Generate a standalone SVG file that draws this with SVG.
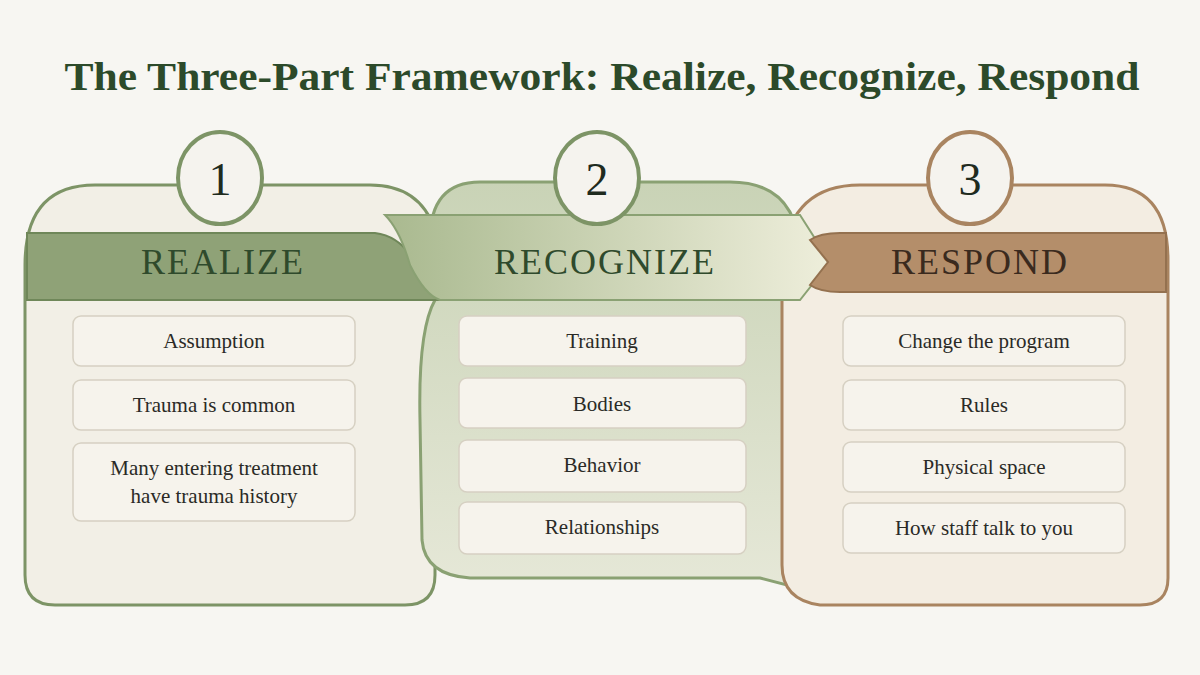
<svg xmlns="http://www.w3.org/2000/svg" width="1200" height="675" viewBox="0 0 1200 675">
<defs>
<style>
.t{font-family:"Liberation Serif",serif;text-anchor:middle}
.box{fill:#f6f3ec;stroke:#d6d0c2;stroke-width:1.5}
.bt{font-family:"Liberation Serif",serif;font-size:21px;fill:#2a2a26;text-anchor:middle}
.hd{font-family:"Liberation Serif",serif;font-size:36px;letter-spacing:2px;text-anchor:middle}
.num{font-family:"Liberation Serif",serif;font-size:46px;fill:#1f2b1e;text-anchor:middle}
</style>
<linearGradient id="rib" x1="0" x2="1"><stop offset="0" stop-color="#a9b98f"/><stop offset="1" stop-color="#eeeedb"/></linearGradient>
<linearGradient id="p2" x1="0" y1="0" x2="0" y2="1"><stop offset="0" stop-color="#c9d3b6"/><stop offset="1" stop-color="#e6e8d8"/></linearGradient>
</defs>
<rect width="1200" height="675" fill="#f7f6f2"/>
<text class="t" x="602" y="90" font-size="40" font-weight="bold" fill="#2c4a2a" textLength="1075" lengthAdjust="spacingAndGlyphs">The Three-Part Framework: Realize, Recognize, Respond</text>
<g id="panel1">
<path d="M25,575 L25,265 Q25,185 95,185 L370,185 Q420,185 435,230 L435,575 Q435,605 405,605 L55,605 Q25,605 25,575 Z" fill="#f2efe6" stroke="#7d9466" stroke-width="3"/>
</g>
<g id="panel2">
<path d="M435,300 Q418,330 420,420 L422,540 Q425,575 470,578 L760,578 Q790,585 820,595 L800,300 L800,260 Q800,182 730,182 L480,182 Q430,182 430,240 Z" fill="url(#p2)" stroke="#8aa173" stroke-width="3"/>
</g>
<g id="panel3">
<path d="M782,565 L782,260 Q790,185 860,185 L1105,185 Q1168,185 1168,260 L1168,578 Q1168,605 1140,605 L820,605 Q782,600 782,565 Z" fill="#f3ede2" stroke="#a98460" stroke-width="3"/>
</g>
<g id="bands">
<path d="M27,233 L375,233 Q400,236 415,262 L440,300 L27,300 Z" fill="#8fa277" stroke="#6f8759" stroke-width="2"/>
<path d="M385,215 L800,215 L830,262 L800,300 L440,300 Q425,295 410,265 Q400,230 385,215 Z" fill="url(#rib)" stroke="#8aa173" stroke-width="2"/>
<path d="M810,240 Q820,233 840,233 L1166,233 L1166,292 L840,292 Q820,292 810,285 L828,262 Z" fill="#b48e6a" stroke="#94714f" stroke-width="2"/>
<text class="hd" x="223" y="274" fill="#2f4a2c">REALIZE</text>
<text class="hd" x="605" y="274" fill="#2f4a2c">RECOGNIZE</text>
<text class="hd" x="980" y="274" fill="#3a2a1e">RESPOND</text>
</g>
<g id="circle1"><ellipse cx="220" cy="178" rx="42" ry="46" fill="#f5f3ee" stroke="#7d9466" stroke-width="4"/><text class="num" x="220" y="195">1</text></g>
<g id="circle2"><ellipse cx="597" cy="178" rx="42" ry="46" fill="#f5f3ee" stroke="#7d9466" stroke-width="4"/><text class="num" x="597" y="195">2</text></g>
<g id="circle3"><ellipse cx="970" cy="178" rx="42" ry="46" fill="#f5f3ee" stroke="#a98460" stroke-width="4"/><text class="num" x="970" y="195">3</text></g>
<g id="items1">
<rect class="box" x="73" y="316" width="282" height="50" rx="8"/><text class="bt" x="214" y="348">Assumption</text>
<rect class="box" x="73" y="380" width="282" height="50" rx="8"/><text class="bt" x="214" y="412">Trauma is common</text>
<rect class="box" x="73" y="443" width="282" height="78" rx="8"/><text class="bt" x="214" y="475">Many entering treatment</text><text class="bt" x="214" y="503">have trauma history</text>
</g>
<g id="items2">
<rect class="box" x="459" y="316" width="287" height="50" rx="8"/><text class="bt" x="602" y="348">Training</text>
<rect class="box" x="459" y="378" width="287" height="50" rx="8"/><text class="bt" x="602" y="411">Bodies</text>
<rect class="box" x="459" y="440" width="287" height="52" rx="8"/><text class="bt" x="602" y="472">Behavior</text>
<rect class="box" x="459" y="502" width="287" height="52" rx="8"/><text class="bt" x="602" y="534">Relationships</text>
</g>
<g id="items3">
<rect class="box" x="843" y="316" width="282" height="50" rx="8"/><text class="bt" x="984" y="348">Change the program</text>
<rect class="box" x="843" y="380" width="282" height="50" rx="8"/><text class="bt" x="984" y="412">Rules</text>
<rect class="box" x="843" y="442" width="282" height="50" rx="8"/><text class="bt" x="984" y="474">Physical space</text>
<rect class="box" x="843" y="503" width="282" height="50" rx="8"/><text class="bt" x="984" y="535">How staff talk to you</text>
</g>
<g id="connectors"/>
</svg>
